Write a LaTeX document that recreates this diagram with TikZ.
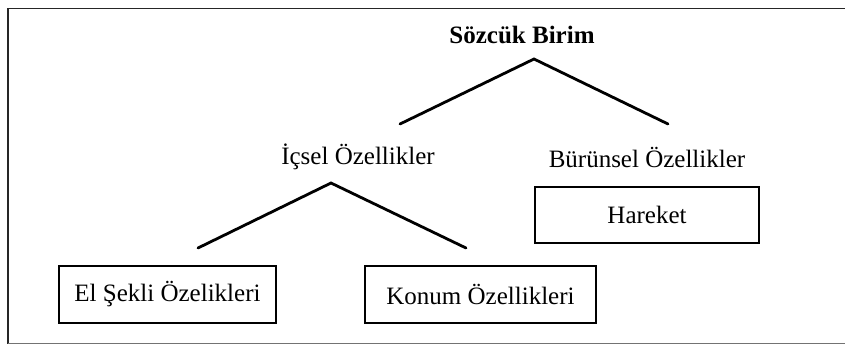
\documentclass[tikz,border=0pt]{standalone}
\usepackage{fontspec}
\setmainfont{Liberation Serif}
\tikzset{
  lbl/.style={inner sep=0pt, font=\fontsize{25}{30}\selectfont},
  boxnode/.style={draw, line width=1.3pt, inner sep=0pt, font=\fontsize{25}{30}\selectfont},
  branch/.style={line width=2.8pt, line cap=round},
  frameline/.style={line width=1.6pt}
}
\begin{document}
\begin{tikzpicture}[x=1pt,y=-1pt]
\useasboundingbox (0,0) rectangle (845,345);
\draw[frameline, black!85] (846,8.5) -- (8,8.5) -- (8,344);
\draw[frameline, black!55] (8,343.5) -- (846,343.5);
\node[lbl, font=\fontsize{25}{30}\selectfont\bfseries] (root) at (522,35) {Sözcük Birim};
\node[lbl] (ic) at (358,157) {İçsel Özellikler};
\node[lbl] (bu) at (647,157) {Bürünsel Özellikler};
\node[boxnode, minimum width=224pt, minimum height=56pt] (har) at (647,215) {Hareket};
\node[boxnode, minimum width=217pt, minimum height=57pt] (el) at (167.5,294.5) {El Şekli Özelikleri};
\node[boxnode, minimum width=231pt, minimum height=57pt] (ko) at (480.5,294.5) {Konum Özellikleri};
\coordinate (a1) at (534,59);
\coordinate (l1) at (400,124);
\coordinate (r1) at (668,124);
\coordinate (a2) at (331,183);
\coordinate (l2) at (198,248);
\coordinate (r2) at (466,248);
\draw[branch] (l1) -- (a1) -- (r1);
\draw[branch] (l2) -- (a2) -- (r2);
\end{tikzpicture}
\end{document}
